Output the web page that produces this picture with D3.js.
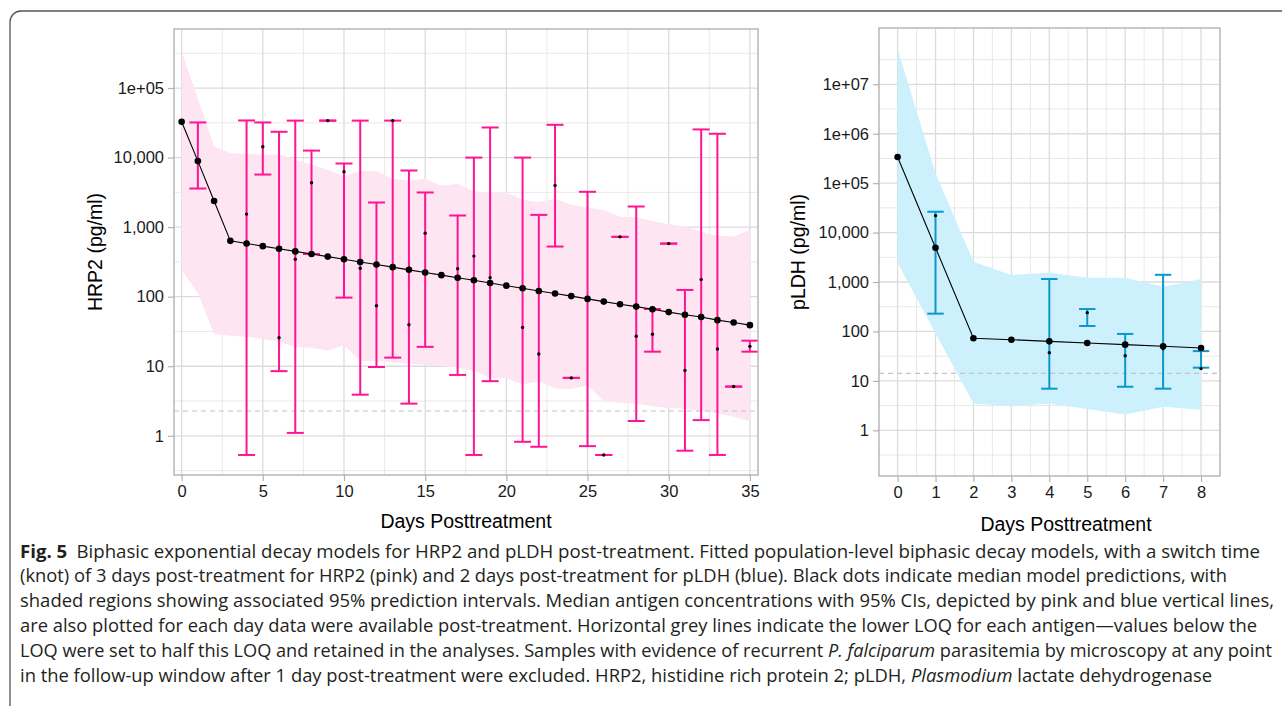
<!DOCTYPE html>
<html>
<head>
<meta charset="utf-8">
<script src="https://cdn.jsdelivr.net/npm/d3@7"></script>
<style>
  body { margin: 0; background: #fff; }
  svg text { font-family: 'Liberation Sans', Arial, sans-serif; }
  .tick text { font-size: 16.5px; fill: #1a1a1a; }
  .tick line { stroke: #b3b3b3; stroke-width: 1.2; }
  .domain { display: none; }
  svg text.caption { font-family: 'Open Sans', 'Noto Sans', sans-serif; font-size: 17.4px; fill: #231f20; }
</style>
</head>
<body>
<svg id="fig" width="1282" height="706"></svg>
<script>
// HRP2 panel (left)
let hrpDays = [0, 1, 2, 3, 4, 5, 6, 7, 8, 9, 10, 11, 12, 13, 14, 15, 16, 17, 18, 19, 20, 21, 22, 23, 24, 25, 26, 27, 28, 29, 30, 31, 32, 33, 34, 35]
let hrpModel = [32700, 8900, 2370, 635, 582, 533, 489, 448, 411, 377, 345, 316, 290, 266, 243, 223, 204, 187, 172, 157, 144, 132, 121, 111, 102, 93, 85, 78, 72, 66, 60, 55, 51, 46, 42.5, 39]
let hrpUpper = [336000, 70000, 14500, 11500, 11400, 11000, 11200, 9300, 7950, 6670, 5350, 6400, 6400, 4950, 4640, 4950, 3930, 4200, 3250, 3150, 3150, 2470, 2290, 2550, 2090, 1920, 1770, 1410, 1390, 1230, 1100, 1020, 855, 750, 733, 914]
let hrpLower = [242, 112, 29, 27.5, 26.6, 24.6, 22.5, 18.9, 18.5, 16.9, 20, 12, 11.8, 11.4, 10.8, 10.6, 10.1, 9.5, 8.6, 6.8, 6.7, 5.5, 6.1, 4.8, 4.7, 5.3, 3.1, 3.0, 2.9, 2.65, 2.5, 2.45, 2.3, 2.1, 1.9, 1.6]
let hrpErrDays = [1, 4, 5, 6, 7, 8, 9, 10, 11, 12, 13, 14, 15, 17, 18, 19, 21, 22, 23, 24, 25, 26, 27, 28, 29, 30, 31, 32, 33, 34, 35]
let hrpErrLow = [3590, 0.53, 5700, 8.5, 1.1, 411, 34000, 97, 3.9, 9.75, 13.3, 2.9, 19, 7.5, 0.53, 6.1, 0.82, 0.695, 526, 6.8, 0.71, 0.53, 725, 1.63, 16.2, 580, 0.61, 1.68, 0.53, 5.1, 16.2]
let hrpErrHigh = [32000, 34200, 32000, 23500, 34000, 12600, 34000, 8220, 34000, 2260, 34000, 6520, 3150, 1470, 10000, 27100, 10000, 1500, 29600, 6.8, 3220, 0.53, 725, 1980, 66.5, 580, 125, 25400, 22000, 5.1, 23.3]
let hrpErrMed = [8900, 1540, 14300, 25.7, 345, 4340, 34000, 6250, 256, 74, 34000, 39.5, 820, 253, 383, 188, 36, 15, 3970, 6.8, 94, 0.53, 725, 27, 28.8, 580, 8.7, 176, 17.7, 5.1, 19.3]
let hrpLoq = 2.27

// pLDH panel (right)
let pldhDays = [0, 1, 2, 3, 4, 5, 6, 7, 8]
let pldhModel = [338000, 4950, 72.6, 68, 63, 58.4, 54, 50, 46.2]
let pldhUpper = [52000000, 158000, 2580, 1390, 1540, 1220, 1220, 800, 1150]
let pldhLower = [2460, 92, 3.5, 3.06, 3.5, 2.7, 2.1, 3.0, 2.6]
let pldhErrDays = [1, 4, 5, 6, 7, 8]
let pldhErrLow = [229, 6.95, 129, 7.6, 6.95, 18.5]
let pldhErrHigh = [26400, 1150, 284, 89, 1400, 40]
let pldhErrMed = [22000, 37, 240, 32.3, 44.8, 17.7]
let pldhLoq = 14.2

// ticks
let hrpXTicks = [0, 5, 10, 15, 20, 25, 30, 35]
let hrpYTicks = [1, 10, 100, 1000, 10000, 100000]
let hrpYLabels = ['1', '10', '100', '1,000', '10,000', '1e+05']
let pldhXTicks = [0, 1, 2, 3, 4, 5, 6, 7, 8]
let pldhYTicks = [1, 10, 100, 1000, 10000, 100000, 1000000, 10000000]
let pldhYLabels = ['1', '10', '100', '1,000', '10,000', '1e+05', '1e+06', '1e+07']

const svg = d3.select('#fig')
svg.append('rect').attr('width', 1282).attr('height', 706).attr('fill', '#fff')

// figure frame (rounded box running off the page)
svg.append('path')
  .attr('d', 'M1300,11 H21 A11,11 0 0 0 10,22 V720')
  .attr('fill', 'none')
  .attr('stroke', '#555')
  .attr('stroke-width', 1.3)

function drawPanel(p) {
  const x = d3.scaleLinear().domain(p.xDomain).range([p.left, p.right])
  const y = d3.scaleLog().domain(p.yDomain).range([p.bottom, p.top])
  const g = svg.append('g')

  // minor grid
  const xMinor = p.xTicks.slice(0, -1).map((d, i) => (d + p.xTicks[i + 1]) / 2)
  const lo = Math.floor(Math.log10(p.yDomain[0]))
  const hi = Math.ceil(Math.log10(p.yDomain[1]))
  const yMinor = d3.range(lo, hi).map((k) => Math.pow(10, k + 0.5))
    .filter((v) => v > p.yDomain[0] && v < p.yDomain[1])
  g.selectAll('.xminor').data(xMinor).enter().append('line')
    .attr('x1', (d) => x(d)).attr('x2', (d) => x(d))
    .attr('y1', p.top).attr('y2', p.bottom)
    .style('stroke', '#e3e3e3').style('stroke-width', 0.8)
  g.selectAll('.yminor').data(yMinor).enter().append('line')
    .attr('x1', p.left).attr('x2', p.right)
    .attr('y1', (d) => y(d)).attr('y2', (d) => y(d))
    .style('stroke', '#e3e3e3').style('stroke-width', 0.8)
  // major grid
  g.selectAll('.xmajor').data(p.xTicks).enter().append('line')
    .attr('x1', (d) => x(d)).attr('x2', (d) => x(d))
    .attr('y1', p.top).attr('y2', p.bottom)
    .style('stroke', '#dcdcdc').style('stroke-width', 1.3)
  g.selectAll('.ymajor').data(p.yTicks).enter().append('line')
    .attr('x1', p.left).attr('x2', p.right)
    .attr('y1', (d) => y(d)).attr('y2', (d) => y(d))
    .style('stroke', '#dcdcdc').style('stroke-width', 1.3)

  // prediction interval ribbon
  const band = p.days.map((d, i) => ({ day: d, lo: p.lower[i], hi: p.upper[i] }))
  g.append('path')
    .datum(band)
    .attr('d', d3.area().x((d) => x(d.day)).y0((d) => y(d.lo)).y1((d) => y(d.hi)))
    .style('fill', p.fill)

  // LOQ line
  g.append('line')
    .attr('x1', p.left).attr('x2', p.right)
    .attr('y1', y(p.loq)).attr('y2', y(p.loq))
    .style('stroke', '#c4c4c4').style('stroke-width', 1.2)
    .style('stroke-dasharray', '5,4')

  // error bars
  const errs = p.errDays.map((d, i) => ({ day: d, lo: p.errLow[i], hi: p.errHigh[i], med: p.errMed[i] }))
  const eb = g.selectAll('.err').data(errs).enter().append('g')
    .style('stroke', p.color).style('stroke-width', 2)
  eb.append('line')
    .attr('x1', (d) => x(d.day)).attr('x2', (d) => x(d.day))
    .attr('y1', (d) => y(d.lo)).attr('y2', (d) => y(d.hi))
  eb.append('line')
    .attr('x1', (d) => x(d.day) - p.cap).attr('x2', (d) => x(d.day) + p.cap)
    .attr('y1', (d) => y(d.lo)).attr('y2', (d) => y(d.lo))
  eb.append('line')
    .attr('x1', (d) => x(d.day) - p.cap).attr('x2', (d) => x(d.day) + p.cap)
    .attr('y1', (d) => y(d.hi)).attr('y2', (d) => y(d.hi))

  // model line + dots
  const model = p.days.map((d, i) => ({ day: d, v: p.model[i] }))
  g.append('path')
    .datum(model)
    .attr('d', d3.line().x((d) => x(d.day)).y((d) => y(d.v)))
    .style('fill', 'none').style('stroke', '#000').style('stroke-width', 1.1)
  g.selectAll('.mdot').data(model).enter().append('circle')
    .attr('cx', (d) => x(d.day)).attr('cy', (d) => y(d.v)).attr('r', 3.3)
    .style('fill', '#000')

  // observed medians
  g.selectAll('.med').data(errs).enter().append('circle')
    .attr('cx', (d) => x(d.day)).attr('cy', (d) => y(d.med)).attr('r', 1.7)
    .style('fill', '#000')

  // panel border
  g.append('rect')
    .attr('x', p.left).attr('y', p.top)
    .attr('width', p.right - p.left).attr('height', p.bottom - p.top)
    .style('fill', 'none').style('stroke', '#b3b3b3').style('stroke-width', 1.4)

  // axes
  g.append('g')
    .attr('transform', `translate(0,${p.bottom})`)
    .call(d3.axisBottom(x).tickValues(p.xTicks).tickSize(6).tickPadding(4).tickFormat(d3.format('d')))
  g.append('g')
    .attr('transform', `translate(${p.left},0)`)
    .call(d3.axisLeft(y).tickValues(p.yTicks).tickSize(6).tickPadding(4)
      .tickFormat((d, i) => p.yLabels[i]))

  g.append('text')
    .attr('x', p.xTitleX).attr('y', p.xTitleY)
    .attr('text-anchor', 'middle')
    .style('font-size', '19.5px')
    .text('Days Posttreatment')
  g.append('text')
    .attr('transform', `translate(${p.yTitleX},${(p.top + p.bottom) / 2}) rotate(-90)`)
    .attr('text-anchor', 'middle')
    .style('font-size', '19.5px')
    .text(p.yTitle)
}

drawPanel({
  left: 174, right: 758, top: 29, bottom: 475,
  xDomain: [-0.47, 35.5], yDomain: [0.273, 706000],
  days: hrpDays, model: hrpModel, upper: hrpUpper, lower: hrpLower,
  errDays: hrpErrDays, errLow: hrpErrLow, errHigh: hrpErrHigh, errMed: hrpErrMed,
  loq: hrpLoq, color: '#ff1493', fill: '#fde5f2', cap: 8.5,
  xTicks: hrpXTicks, yTicks: hrpYTicks, yLabels: hrpYLabels,
  yTitle: 'HRP2 (pg/ml)', yTitleX: 102, xTitleX: 466, xTitleY: 528,
})

drawPanel({
  left: 879, right: 1220, top: 28, bottom: 476,
  xDomain: [-0.49, 8.5], yDomain: [0.119, 137700000],
  days: pldhDays, model: pldhModel, upper: pldhUpper, lower: pldhLower,
  errDays: pldhErrDays, errLow: pldhErrLow, errHigh: pldhErrHigh, errMed: pldhErrMed,
  loq: pldhLoq, color: '#0b99cc', fill: '#ccf0fc', cap: 8.2,
  xTicks: pldhXTicks, yTicks: pldhYTicks, yLabels: pldhYLabels,
  yTitle: 'pLDH (pg/ml)', yTitleX: 805, xTitleX: 1066, xTitleY: 531,
})

// caption
let captionLines = [
  [['b', 'Fig. 5'], ['r', '\u2002Biphasic exponential decay models for HRP2 and pLDH post-treatment. Fitted population-level biphasic decay models, with a switch time']],
  [['r', '(knot) of 3 days post-treatment for HRP2 (pink) and 2 days post-treatment for pLDH (blue). Black dots indicate median model predictions, with']],
  [['r', 'shaded regions showing associated 95% prediction intervals. Median antigen concentrations with 95% CIs, depicted by pink and blue vertical lines,']],
  [['r', 'are also plotted for each day data were available post-treatment. Horizontal grey lines indicate the lower LOQ for each antigen\u2014values below the']],
  [['r', 'LOQ were set to half this LOQ and retained in the analyses. Samples with evidence of recurrent '], ['i', 'P. falciparum'], ['r', ' parasitemia by microscopy at any point']],
  [['r', 'in the follow-up window after 1 day post-treatment were excluded. HRP2, histidine rich protein 2; pLDH, '], ['i', 'Plasmodium'], ['r', ' lactate dehydrogenase']],
]
let captionWidths = [1240, 1207, 1254, 1237, 1252, 1192]
captionLines.forEach((parts, i) => {
  const t = svg.append('text').attr('class', 'caption')
    .attr('x', 20).attr('y', 557.5 + i * 24.8)
    .attr('textLength', captionWidths[i])
    .attr('lengthAdjust', 'spacingAndGlyphs')
  parts.forEach(([s, txt]) => {
    t.append('tspan')
      .style('font-weight', s === 'b' ? 'bold' : 'normal')
      .style('font-style', s === 'i' ? 'italic' : 'normal')
      .text(txt)
  })
})
</script>
</body>
</html>
